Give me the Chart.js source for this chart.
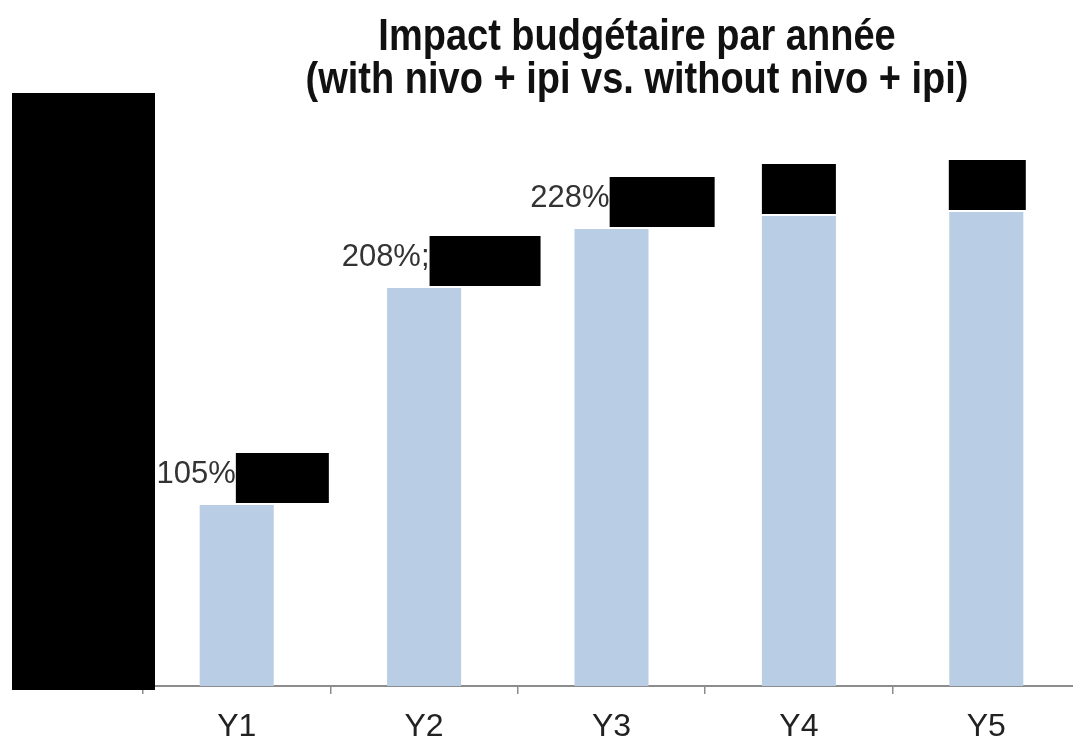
<!DOCTYPE html>
<html>
<head>
<meta charset="utf-8">
<script src="https://cdn.jsdelivr.net/npm/chart.js@4.4.0/dist/chart.umd.min.js"></script>
<style>
    body { margin: 0; background: #fff; overflow: hidden; }
    #clip { width: 1073px; height: 740px; overflow: hidden; }
    #wrap { width: 1090px; height: 760px; }
</style>
</head>
<body>
<div id="clip"><div id="wrap"><canvas id="budgetChart"></canvas></div></div>
<script>
// chart data
const years = ['Y1', 'Y2', 'Y3', 'Y4', 'Y5'];
const impactValues = [18.1, 39.8, 45.7, 47.0, 47.4];
const labelTexts = ['105%', '208%;', '228%', '', ''];
const titleLines = ['Impact budgétaire par année', '(with nivo + ipi vs. without nivo + ipi)'];

document.addEventListener('DOMContentLoaded', function() {
    // widths of the black boxes hiding the rest of each label
    const redactWidths = [93, 111, 105, 74, 77];
    const labelShift = [6, 17, 11, 0, 1];

    const titlePlugin = {
        id: 'titlePlugin',
        afterDraw(chart) {
            const ctx = chart.ctx;
            ctx.save();
            ctx.fillStyle = '#111';
            ctx.font = 'bold 38px "Liberation Sans", Arial, sans-serif';
            ctx.textAlign = 'center';
            ctx.textBaseline = 'alphabetic';
            [50, 93].forEach((y, i) => {
                ctx.save();
                ctx.translate(637, y);
                ctx.scale(1, 1.15);
                ctx.fillText(titleLines[i], 0, 0);
                ctx.restore();
            });
            ctx.restore();
        }
    };

    const labelPlugin = {
        id: 'labelPlugin',
        afterDatasetsDraw(chart) {
            const ctx = chart.ctx;
            const meta = chart.getDatasetMeta(0);
            ctx.save();
            ctx.font = '31px "Liberation Sans", Arial, sans-serif';
            ctx.textBaseline = 'alphabetic';
            meta.data.forEach((bar, i) => {
                const text = labelTexts[i];
                const tw = text ? ctx.measureText(text).width : 0;
                const bw = redactWidths[i];
                const left = bar.x - (tw + bw) / 2 + labelShift[i];
                if (text) {
                    ctx.fillStyle = '#333';
                    ctx.textAlign = 'left';
                    ctx.fillText(text, left, bar.y - 22);
                }
                ctx.fillStyle = '#000';
                ctx.fillRect(left + tw, bar.y - 52, bw, 50);
            });
            // redaction over the value axis
            ctx.fillStyle = '#000';
            ctx.fillRect(12, 93, 143, chart.chartArea.bottom - 93 + 4);
            ctx.restore();
        }
    };

    const ctx = document.getElementById('budgetChart').getContext('2d');
    new Chart(ctx, {
        type: 'bar',
        data: {
            labels: years,
            datasets: [{
                data: impactValues,
                backgroundColor: '#b9cde5',
                borderWidth: 0,
                barPercentage: 0.395,
                categoryPercentage: 1.0
            }]
        },
        options: {
            responsive: true,
            maintainAspectRatio: false,
            animation: false,
            layout: { padding: { top: 86, left: 143, right: 10, bottom: 0 } },
            plugins: {
                legend: { display: false },
                tooltip: { enabled: false },
                title: { display: false }
            },
            scales: {
                x: {
                    border: { display: true, color: '#8c8c8c', width: 2 },
                    grid: {
                        offset: true,
                        drawOnChartArea: false,
                        drawTicks: true,
                        tickLength: 8,
                        color: '#8c8c8c',
                        lineWidth: 1.5
                    },
                    ticks: {
                        color: '#222',
                        padding: 17,
                        font: { family: '"Liberation Sans", Arial, sans-serif', size: 32, lineHeight: 1.0 }
                    }
                },
                y: {
                    display: false,
                    min: 0,
                    max: 60
                }
            }
        },
        plugins: [titlePlugin, labelPlugin]
    });
});
</script>
</body>
</html>
